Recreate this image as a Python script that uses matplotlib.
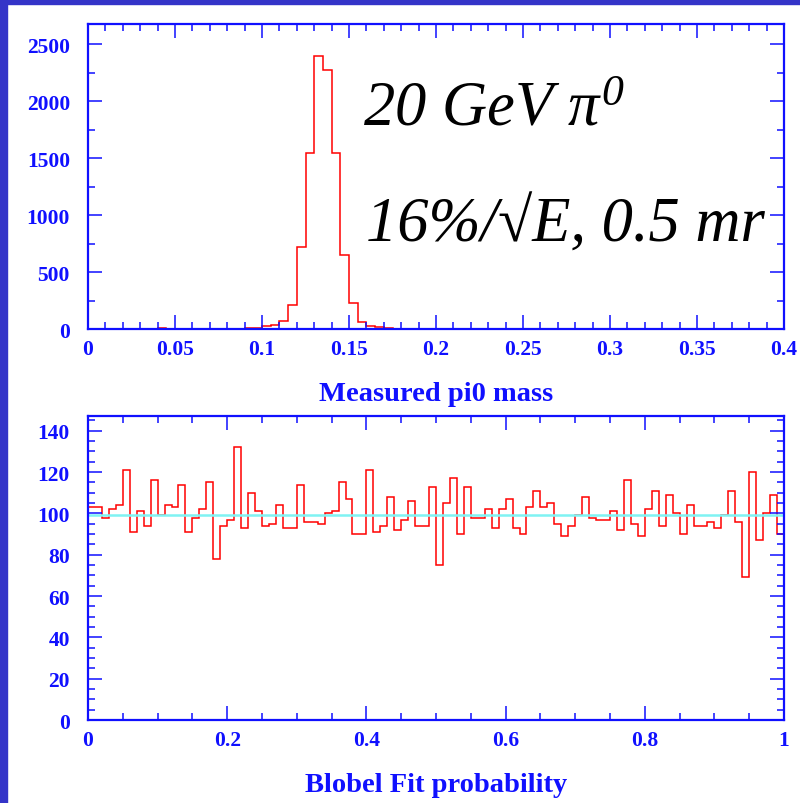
#modules
import numpy as np
import matplotlib
matplotlib.use("Agg")
import matplotlib.pyplot as plt
from matplotlib.patches import Rectangle
from matplotlib.ticker import MultipleLocator, FormatStrFormatter

#histogramme de la masse du pi0 (80 bins de 0 a 0.4)
masse_bords = np.linspace(0, 0.4, 81)
masse_counts = [0, 0, 0, 0, 0, 0, 0, 0, 12, 0,
                0, 0, 0, 0, 0, 0, 0, 0, 9, 9,
                26, 38, 78, 218, 720, 1551, 2403, 2277, 1551, 656,
                230, 66, 30, 20, 10, 0, 0, 0, 0, 0,
                0, 0, 0, 0, 0, 0, 0, 0, 0, 0,
                0, 0, 0, 0, 0, 0, 0, 0, 0, 0,
                0, 0, 0, 0, 0, 0, 0, 0, 0, 0,
                0, 0, 0, 0, 0, 0, 0, 0, 0, 0]

#probabilite du fit de Blobel (100 bins de 0 a 1)
proba_bords = np.linspace(0, 1, 101)
proba_counts = [103, 103, 98, 102, 104, 121, 91, 101, 94, 116,
                99, 104, 103, 114, 91, 98, 102, 115, 78, 94,
                97, 132, 93, 110, 101, 94, 95, 104, 93, 93,
                114, 96, 96, 95, 100, 101, 115, 107, 90, 90,
                121, 91, 94, 108, 92, 97, 106, 94, 94, 113,
                75, 105, 117, 90, 113, 98, 98, 102, 93, 102,
                107, 93, 90, 103, 111, 103, 105, 95, 89, 94,
                99, 108, 98, 97, 97, 101, 92, 116, 95, 89,
                102, 111, 94, 109, 100, 90, 104, 94, 94, 96,
                93, 99, 111, 96, 69, 120, 87, 100, 109, 90]
niveau_fit = 99.2

bleu = "#1010ff"
police = ["Liberation Serif", "DejaVu Serif"]

plt.rcParams["mathtext.fontset"] = "custom"
plt.rcParams["mathtext.rm"] = "Liberation Serif:italic"
plt.rcParams["mathtext.it"] = "Liberation Serif:italic"


def habille(ax, xmaj, xmin, ymaj, ymin, fmt_x):
    """ axes facon PAW : cadre bleu, ticks vers l'interieur sur les 4 cotes """
    for s in ax.spines.values():
        s.set_color(bleu)
        s.set_linewidth(1.6)
    ax.xaxis.set_major_locator(MultipleLocator(xmaj))
    ax.xaxis.set_minor_locator(MultipleLocator(xmin))
    ax.yaxis.set_major_locator(MultipleLocator(ymaj))
    ax.yaxis.set_minor_locator(MultipleLocator(ymin))
    ax.xaxis.set_major_formatter(fmt_x)
    ax.tick_params(which="both", direction="in", top=True, right=True, color=bleu, width=1.1)
    ax.tick_params(which="major", length=10)
    ax.tick_params(which="minor", length=5)
    ax.tick_params(axis="x", pad=7)
    ax.tick_params(axis="y", pad=13)
    for lab in ax.get_xticklabels() + ax.get_yticklabels():
        lab.set_family(police)
        lab.set_weight("bold")
        lab.set_color(bleu)
        lab.set_fontsize(15.5)


def fmt_g(v, pos):
    return "%g" % round(v, 4)


fig = plt.figure(figsize=(8, 8.04), dpi=100)

#bordure bleue a gauche et en haut
fig.patches.append(Rectangle((0, 0), 0.009, 1, transform=fig.transFigure, color="#3434c8", zorder=0))
fig.patches.append(Rectangle((0, 0.9935), 1, 0.0065, transform=fig.transFigure, color="#3434c8", zorder=0))

#haut : masse mesuree
ax1 = fig.add_axes([0.110, 0.589, 0.870, 0.380])
ax1.stairs(masse_counts, masse_bords, color="red", lw=1.1)
ax1.set_xlim(0, 0.4)
ax1.set_ylim(0, 2680)
habille(ax1, 0.05, 0.01, 500, 250, plt.FuncFormatter(fmt_g))
ax1.set_xlabel("Measured pi0 mass", family=police, weight="bold", color=bleu, fontsize=20.5, labelpad=16)

fig.text(0.454, 0.8433, r"20 GeV $\pi^0$", family=police, style="italic", fontsize=45, va="baseline")
fig.text(0.457, 0.699, "16%/\u221aE, 0.5 mr", family=police, style="italic", fontsize=45, va="baseline")

#bas : probabilite du fit
ax2 = fig.add_axes([0.110, 0.1032, 0.870, 0.3785])
ax2.stairs(proba_counts, proba_bords, color="red", lw=1.1)
ax2.axhline(niveau_fit, color="#7ff3f3", lw=1.8)
ax2.set_xlim(0, 1)
ax2.set_ylim(0, 147.3)
habille(ax2, 0.2, 0.05, 20, 5, plt.FuncFormatter(fmt_g))
ax2.set_xlabel("Blobel Fit probability", family=police, weight="bold", color=bleu, fontsize=20.5, labelpad=16)

fig.savefig("out.png", dpi=100)
